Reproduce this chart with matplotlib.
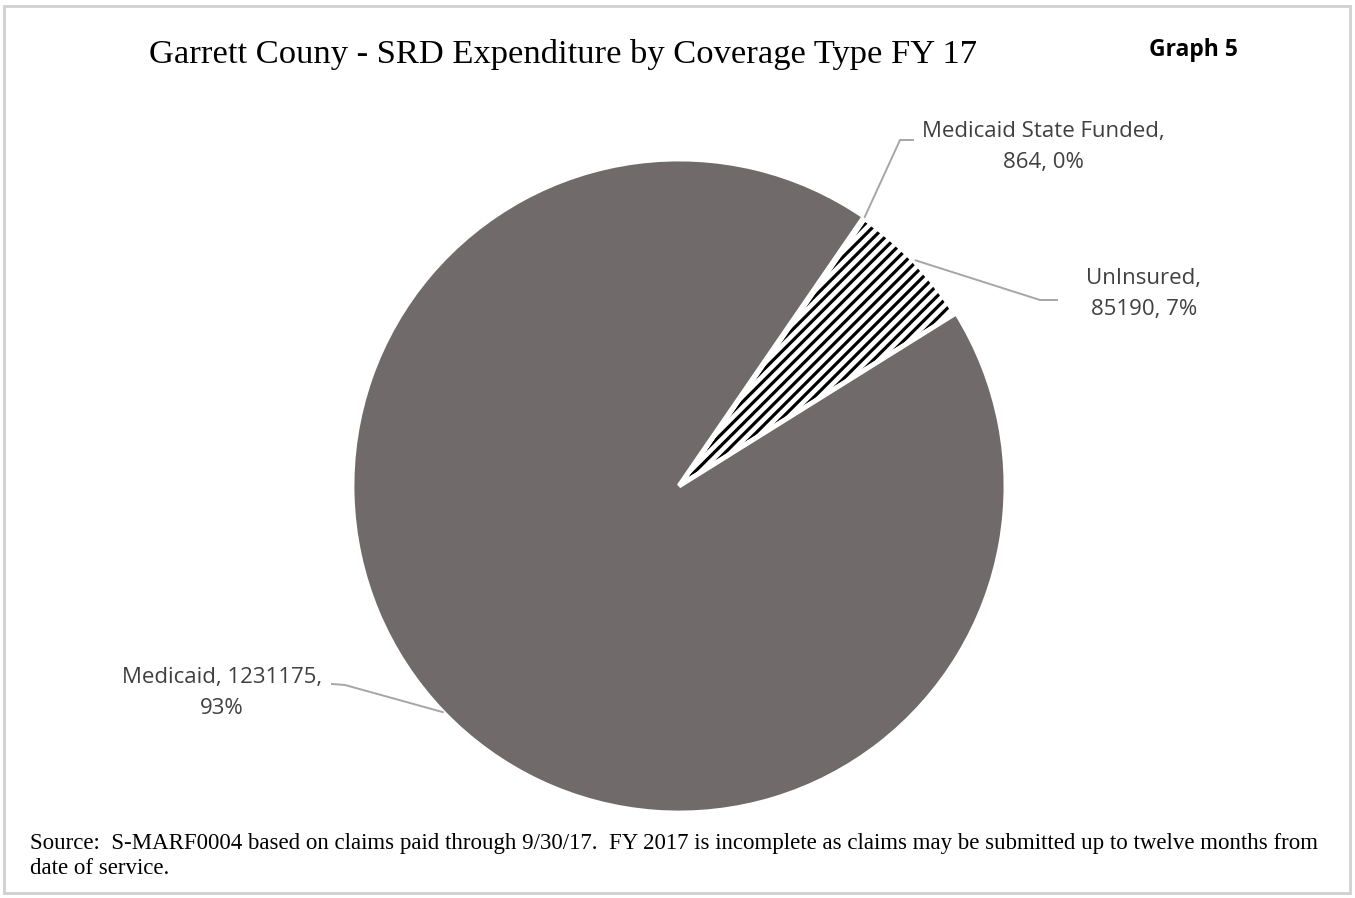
import numpy as np
import matplotlib
matplotlib.use("Agg")
import matplotlib.pyplot as plt
from matplotlib.patches import Wedge, Rectangle

W, H = 1355, 898

coverage = ["Medicaid State Funded", "UnInsured", "Medicaid"]
spend = [864, 85190, 1231175]
pct_shown = [0, 7, 93]

title = "Garrett Couny - SRD Expenditure by Coverage Type FY 17"
tag = "Graph 5"
source_note = ("Source:  S-MARF0004 based on claims paid through 9/30/17.  FY 2017 is incomplete "
               "as claims may be submitted up to twelve months from\ndate of service.")

LABEL_FONT = ["Open Sans", "DejaVu Sans"]
SERIF = ["Liberation Serif", "DejaVu Serif"]
PIE_GRAY = "#706a6a"
LEADER = "#a6a6a6"

plt.rcParams["hatch.linewidth"] = 2.3

fig = plt.figure(figsize=(W / 100, H / 100), dpi=100)
ax = fig.add_axes([0, 0, 1, 1])

# pie in pixel coordinates (y measured up from the bottom)
cx, cy, R = 679, H - 486, 327
wedges, _ = ax.pie(spend, center=(cx, cy), radius=R, startangle=55.5,
                   counterclock=False, colors=["white", "white", PIE_GRAY],
                   wedgeprops=dict(edgecolor="white", linewidth=3.5),
                   frame=True)
ax.set_xlim(0, W)
ax.set_ylim(0, H)
ax.set_aspect("equal")
ax.axis("off")

# black diagonal stripes on the uninsured slice, kept under the white borders
w_un = wedges[1]
w_un.set_facecolor("none")
ax.add_patch(Wedge((cx, cy), R, w_un.theta1, w_un.theta2, facecolor="white",
                   linewidth=0, zorder=w_un.zorder - 0.1))
ax.add_patch(Wedge((cx, cy), R - 4, w_un.theta1, w_un.theta2, facecolor="none",
                   edgecolor="black", hatch="///", linewidth=0,
                   zorder=w_un.zorder - 0.05))

texts = [
    f"{coverage[0]},\n{spend[0]}, {pct_shown[0]}%",
    f"{coverage[1]},\n{spend[1]}, {pct_shown[1]}%",
    f"{coverage[2]}, {spend[2]},\n{pct_shown[2]}%",
]

# label centres and leader elbows (pixels from top-left)
label_pos = [(1043, 147), (1144, 294), (222, 693)]
elbows = [[(900, 140), (913, 140)], [(1040, 300), (1057, 300)], [(345, 685), (332, 684)]]

for w, txt, (lx, ly), elb in zip(wedges, texts, label_pos, elbows):
    mid = np.deg2rad((w.theta1 + w.theta2) / 2)
    start = (cx + R * np.cos(mid), cy + R * np.sin(mid))
    xs = [start[0]] + [e[0] for e in elb]
    ys = [start[1]] + [H - e[1] for e in elb]
    ax.plot(xs, ys, color=LEADER, lw=1.4, zorder=5)
    ax.text(lx, H - ly, txt, ha="center", va="center", fontsize=16,
            family=LABEL_FONT, color="#404040", linespacing=1.68)

ax.text(563, H - 55, title, ha="center", va="center", fontsize=24.8,
        family=SERIF, color="black")
ax.text(1193, H - 50, tag, ha="center", va="center", fontsize=16.5,
        family=LABEL_FONT, fontweight="bold", color="black")
ax.text(30, H - 856, source_note, ha="left", va="center", fontsize=16.5,
        family=SERIF, color="black", linespacing=1.3)

ax.add_patch(Rectangle((4, H - 893), 1346, 887, fill=False,
                       edgecolor="#d0d0d0", lw=2, zorder=10))

fig.savefig("out.png", dpi=100)
